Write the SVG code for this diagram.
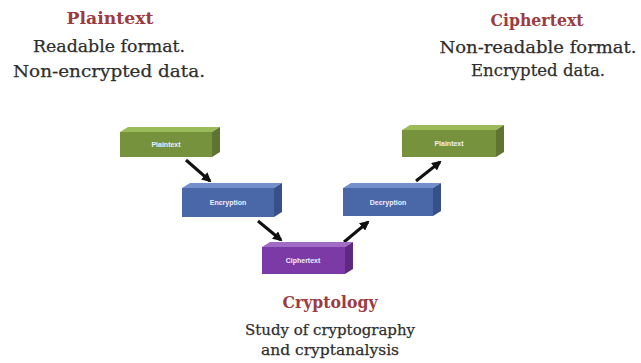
<svg xmlns="http://www.w3.org/2000/svg" width="641" height="363" viewBox="0 0 641 363">
<defs>
<marker id="ah" viewBox="0 0 10 10" refX="8" refY="5" markerWidth="3.2" markerHeight="3.2" orient="auto" markerUnits="strokeWidth">
<path d="M0,0 L10,5 L0,10 Z" fill="#111"/>
</marker>
</defs>
<style>
.title{font-family:"DejaVu Serif","Liberation Serif",serif;font-weight:bold;font-size:16px;fill:#9c3b42;text-anchor:middle}
.body{font-family:"DejaVu Serif","Liberation Serif",serif;font-size:17px;fill:#2e2e2e;text-anchor:middle;stroke:#2e2e2e;stroke-width:0.25}
.lbl{font-family:"Liberation Sans",Arial,sans-serif;font-size:7px;font-weight:bold;fill:#eef;text-anchor:middle}
.conn{stroke:#111;stroke-width:3;fill:none;marker-end:url(#ah)}
.g .f{fill:#76923c}.g .t{fill:#9bbb59}.g .s{fill:#5d7530}
.b .f{fill:#4a67a8}.b .t{fill:#7390cc}.b .s{fill:#37508a}
.p .f{fill:#7b3aa6}.p .t{fill:#a06cc6}.p .s{fill:#5d2a80}
</style>
<rect width="641" height="363" fill="#fff"/>
<g id="caption-plaintext">
<text class="title" x="110" y="24" textLength="87" lengthAdjust="spacingAndGlyphs">Plaintext</text>
<text class="body" x="109" y="52" textLength="152" lengthAdjust="spacingAndGlyphs">Readable format.</text>
<text class="body" x="109" y="77" textLength="192" lengthAdjust="spacingAndGlyphs">Non-encrypted data.</text>
</g>
<g id="caption-ciphertext">
<text class="title" x="537" y="26" textLength="93" lengthAdjust="spacingAndGlyphs">Ciphertext</text>
<text class="body" x="538" y="53" textLength="197" lengthAdjust="spacingAndGlyphs">Non-readable format.</text>
<text class="body" x="538" y="76" textLength="134" lengthAdjust="spacingAndGlyphs">Encrypted data.</text>
</g>
<g id="caption-cryptology">
<text class="title" x="330" y="308" style="font-size:17px" textLength="95" lengthAdjust="spacingAndGlyphs">Cryptology</text>
<text class="body" x="330" y="335" style="font-size:15.5px" textLength="170" lengthAdjust="spacingAndGlyphs">Study of cryptography</text>
<text class="body" x="330" y="355" style="font-size:15.5px">and cryptanalysis</text>
</g>
<g id="connectors">
<line class="conn" x1="186" y1="160" x2="210" y2="181"/>
<line class="conn" x1="258" y1="221" x2="281" y2="240"/>
<line class="conn" x1="344" y1="242" x2="368" y2="222"/>
<line class="conn" x1="416" y1="181" x2="440" y2="162"/>
</g>
<g id="node-plaintext-in" class="g">
<polygon class="t" points="120,132 128,127 220,127 212,132"/>
<polygon class="s" points="212,132 220,127 220,152 212,157"/>
<rect class="f" x="120" y="132" width="92" height="25"/>
<text class="lbl" x="166" y="147">Plaintext</text>
</g>
<g id="node-encryption" class="b">
<polygon class="t" points="182,188 190,183 282,183 274,188"/>
<polygon class="s" points="274,188 282,183 282,212 274,217"/>
<rect class="f" x="182" y="188" width="92" height="29"/>
<text class="lbl" x="228" y="205">Encryption</text>
</g>
<g id="node-ciphertext" class="p">
<polygon class="t" points="262,247 270,242 353,242 345,247"/>
<polygon class="s" points="345,247 353,242 353,269 345,274"/>
<rect class="f" x="262" y="247" width="83" height="27"/>
<text class="lbl" x="303" y="263">Ciphertext</text>
</g>
<g id="node-decryption" class="b">
<polygon class="t" points="343,188 351,183 441,183 433,188"/>
<polygon class="s" points="433,188 441,183 441,211 433,216"/>
<rect class="f" x="343" y="188" width="90" height="28"/>
<text class="lbl" x="388" y="205">Decryption</text>
</g>
<g id="node-plaintext-out" class="g">
<polygon class="t" points="402,130 410,125 504,125 496,130"/>
<polygon class="s" points="496,130 504,125 504,152 496,157"/>
<rect class="f" x="402" y="130" width="94" height="27"/>
<text class="lbl" x="449" y="146">Plaintext</text>
</g>
</svg>
